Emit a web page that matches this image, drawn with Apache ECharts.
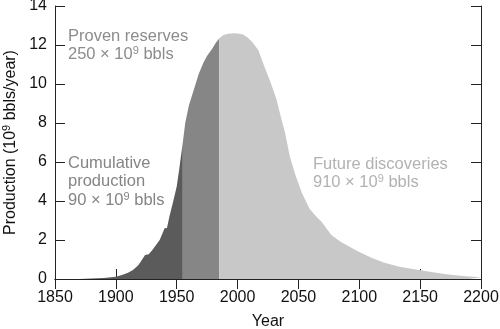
<!DOCTYPE html>
<html>
<head>
<meta charset="utf-8">
<script src="https://cdn.jsdelivr.net/npm/echarts@6/dist/echarts.min.js"></script>
<style>html,body{margin:0;padding:0;background:#fff}#c{width:500px;height:329px}</style>
</head>
<body>
<div id="c"></div>
<script>
// Year of each point on the production curve
var years = [1850, 1870, 1880, 1890, 1900, 1905, 1910, 1914, 1918, 1920, 1924, 1927, 1930, 1933, 1936, 1938, 1940, 1942, 1944, 1947, 1950, 1952, 1955,
  1957, 1960, 1965, 1968, 1972, 1975, 1979, 1982, 1985,
  1988, 1992, 1998, 2004, 2008, 2012, 2017, 2022, 2027, 2032, 2036, 2039, 2043, 2048, 2053, 2059, 2064, 2069, 2077, 2085, 2092, 2100, 2111, 2120, 2133, 2145, 2158, 2170, 2177, 2190, 2200];
// Production, 10^9 bbls/year
var production = [0, 0, 0.02, 0.05, 0.12, 0.2, 0.32, 0.46, 0.68, 0.84, 1.23, 1.27, 1.49, 1.75, 2.0, 2.3, 2.6, 2.62, 3.2, 3.95, 4.75, 5.6, 7.0,
  8.0, 8.9, 9.9, 10.5, 11.1, 11.45, 11.8, 12.1, 12.34,
  12.5, 12.58, 12.6, 12.55, 12.4, 12.15, 11.74, 10.9, 10.1, 9.2, 8.2, 7.5, 6.27, 5.25, 4.4, 3.62, 3.25, 2.94, 2.26, 1.9, 1.66, 1.38, 1.06, 0.85, 0.63, 0.5, 0.37, 0.26, 0.2, 0.13, 0.09];
// Region boundaries (years)
var regionStarts = [1850, 1955, 1985];
var regionEnds = [1955, 1985, 2200];
var regionNames = ['Cumulative production', 'Proven reserves', 'Future discoveries'];
var regionColors = ['#5b5b5b', '#868686', '#c8c8c8'];
var xTicks = [1850, 1900, 1950, 2000, 2050, 2100, 2150, 2200];
var yTicks = [0, 2, 4, 6, 8, 10, 12, 14];

var FONT = "'Liberation Sans', Arial, Helvetica, sans-serif";
var chart = echarts.init(document.getElementById('c'), null, {renderer: 'canvas'});

function segment(a, b) {
  var out = [];
  for (var i = 0; i < years.length; i++) {
    if (years[i] >= a && years[i] <= b) out.push([years[i], production[i]]);
  }
  return out;
}

var series = regionNames.map(function (n, k) {
  return {
    name: n, type: 'line', xAxisIndex: 0, yAxisIndex: 0,
    data: segment(regionStarts[k], regionEnds[k]),
    showSymbol: false, smooth: false, silent: true,
    lineStyle: {width: 0, color: regionColors[k]},
    areaStyle: {color: regionColors[k], opacity: 1},
    z: 2
  };
});

var supRich = {sup: {fontSize: 11, verticalAlign: 'top', padding: [0, 0, 7, 0], fontFamily: FONT}};

var tickCommon = {show: true, inside: true, length: 10, lineStyle: {color: '#222', width: 1}};

chart.setOption({
  animation: false,
  backgroundColor: '#fff',
  grid: {left: 55, right: 19, top: 6, bottom: 50, containLabel: false, outerBoundsMode: 'none'},
  xAxis: [
    {type: 'value', position: 'bottom', min: xTicks[0], max: xTicks[xTicks.length - 1], interval: 50,
      axisLine: {show: false}, axisTick: tickCommon, splitLine: {show: false},
      axisLabel: {color: '#111', fontSize: 16, fontFamily: FONT, margin: 11, formatter: function (v) { return String(v); }},
      name: 'Year', nameLocation: 'middle', nameGap: 35,
      nameTextStyle: {color: '#111', fontSize: 16, fontFamily: FONT}, z: 0},
    {type: 'value', position: 'top', min: xTicks[0], max: xTicks[xTicks.length - 1], interval: 50,
      axisLine: {show: true, lineStyle: {color: '#222', width: 1}}, axisTick: tickCommon,
      axisLabel: {show: false}, splitLine: {show: false}, z: 5},
    {type: 'value', position: 'bottom', min: xTicks[0], max: xTicks[xTicks.length - 1], interval: 50,
      axisLine: {show: true, lineStyle: {color: '#222', width: 1}}, axisTick: {show: false},
      axisLabel: {show: false}, splitLine: {show: false}, z: 5}
  ],
  yAxis: [
    {type: 'value', position: 'left', min: yTicks[0], max: yTicks[yTicks.length - 1], interval: 2,
      axisLine: {show: true, lineStyle: {color: '#222', width: 1}}, axisTick: tickCommon, splitLine: {show: false},
      axisLabel: {color: '#111', fontSize: 16, fontFamily: FONT, margin: 8},
      name: 'Production (10{sup|9} bbls/year)', nameLocation: 'middle', nameGap: 32, nameRotate: 90,
      nameTextStyle: {color: '#111', fontSize: 16, fontFamily: FONT, rich: supRich}, z: 5},
    {type: 'value', position: 'right', min: yTicks[0], max: yTicks[yTicks.length - 1], interval: 2,
      axisLine: {show: true, lineStyle: {color: '#222', width: 1}}, axisTick: tickCommon,
      axisLabel: {show: false}, splitLine: {show: false}, z: 5}
  ],
  series: series,
  graphic: [
    {type: 'text', left: 68, top: 27, z: 10, silent: true,
      style: {text: 'Proven reserves\n250 × 10{sup|9} bbls', fill: '#8c8c8c', fontSize: 16.5, fontFamily: FONT, lineHeight: 18.5, rich: supRich}},
    {type: 'text', left: 68, top: 154, z: 10, silent: true,
      style: {text: 'Cumulative\nproduction\n90 × 10{sup|9} bbls', fill: '#858585', fontSize: 16.5, fontFamily: FONT, lineHeight: 18.5, rich: supRich}},
    {type: 'text', left: 313, top: 155, z: 10, silent: true,
      style: {text: 'Future discoveries\n910 × 10{sup|9} bbls', fill: '#b2b2b2', fontSize: 16.5, fontFamily: FONT, lineHeight: 18.5, rich: supRich}}
  ]
});
</script>
</body>
</html>
